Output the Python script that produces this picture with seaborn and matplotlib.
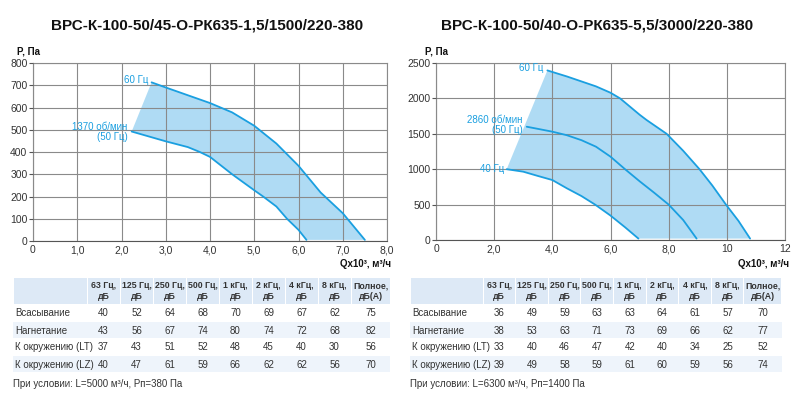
import numpy as np
import pandas as pd
import matplotlib
matplotlib.use("Agg")
import matplotlib.pyplot as plt
from matplotlib.patches import Rectangle
import seaborn as sns

# кривые вентилятора 1 (Q x10^3 м3/ч, P Па)
q1_60 = [2.68, 3.0, 3.5, 4.0, 4.5, 5.0, 5.5, 6.0, 6.5, 7.0, 7.5]
p1_60 = [713, 690, 655, 620, 578, 518, 438, 338, 218, 125, 5]
q1_50 = [2.23, 3.0, 3.5, 3.77, 4.0, 4.5, 5.0, 5.2, 5.5, 5.74, 6.0, 6.18]
p1_50 = [492, 448, 422, 400, 378, 300, 228, 200, 155, 100, 50, 5]

# кривые вентилятора 2
q2_60 = [3.83, 4.5, 5.0, 5.5, 6.0, 6.33, 7.0, 7.24, 7.93, 8.5, 9.06, 9.5, 9.97, 10.4, 10.8]
p2_60 = [2395, 2310, 2240, 2170, 2080, 2000, 1770, 1695, 1500, 1260, 1000, 770, 500, 270, 20]
q2_50 = [3.12, 3.5, 4.0, 4.5, 5.0, 5.5, 6.0, 6.5, 7.0, 7.5, 8.0, 8.5, 8.96]
p2_50 = [1600, 1570, 1530, 1480, 1410, 1318, 1177, 1000, 830, 668, 500, 282, 20]
q2_40 = [2.43, 3.0, 3.5, 4.0, 4.5, 5.0, 5.47, 6.0, 6.5, 6.96]
p2_40 = [1000, 965, 905, 847, 730, 621, 500, 345, 180, 20]

titles = ["ВРС-К-100-50/45-О-РК635-1,5/1500/220-380",
          "ВРС-К-100-50/40-О-РК635-5,5/3000/220-380"]

x1_ticks = [0, 1, 2, 3, 4, 5, 6, 7, 8]
x1_labels = ["0", "1,0", "2,0", "3,0", "4,0", "5,0", "6,0", "7,0", "8,0"]
y1_ticks = [0, 100, 200, 300, 400, 500, 600, 700, 800]
x2_ticks = [0, 2, 4, 6, 8, 10, 12]
x2_labels = ["0", "2,0", "4,0", "6,0", "8,0", "10", "12"]
y2_ticks = [0, 500, 1000, 1500, 2000, 2500]

# таблицы шума
col_heads = ["63 Гц,\nдБ", "125 Гц,\nдБ", "250 Гц,\nдБ", "500 Гц,\nдБ", "1 кГц,\nдБ",
             "2 кГц,\nдБ", "4 кГц,\nдБ", "8 кГц,\nдБ", "Полное,\nдБ(А)"]
row_names = ["Всасывание", "Нагнетание", "К окружению (LT)", "К окружению (LZ)"]
noise1 = [[40, 52, 64, 68, 70, 69, 67, 62, 75],
          [43, 56, 67, 74, 80, 74, 72, 68, 82],
          [37, 43, 51, 52, 48, 45, 40, 30, 56],
          [40, 47, 61, 59, 66, 62, 62, 56, 70]]
noise2 = [[36, 49, 59, 63, 63, 64, 61, 57, 70],
          [38, 53, 63, 71, 73, 69, 66, 62, 77],
          [33, 40, 46, 47, 42, 40, 34, 25, 52],
          [39, 49, 58, 59, 61, 60, 59, 56, 74]]
notes = ["При условии: L=5000 м³/ч, Pп=380 Па",
         "При условии: L=6300 м³/ч, Pп=1400 Па"]

LINE = "#1a9fe0"
FILL = "#8ecdf0"
TXT = "#333333"

sns.set_theme(style="whitegrid")
plt.rcParams["font.family"] = ["Liberation Sans", "DejaVu Sans"]

W, H = 800, 405
fig = plt.figure(figsize=(8, 4.05), dpi=100)


def px_axes(x0, y0, x1, y1):
    return fig.add_axes([x0 / W, 1 - y1 / H, (x1 - x0) / W, (y1 - y0) / H])


def draw_chart(ax, curves, xlim, ylim, xt, xl, yt):
    df = pd.concat([pd.DataFrame({"Q": q, "P": p, "c": i}) for i, (q, p) in enumerate(curves)])
    top_q, top_p = curves[0]
    bot_q, bot_p = curves[-1]
    poly_q = list(bot_q) + list(top_q[::-1])
    poly_p = list(bot_p) + list(top_p[::-1])
    ax.fill(poly_q, poly_p, color=FILL, alpha=0.7, lw=0, zorder=1)
    sns.lineplot(data=df, x="Q", y="P", hue="c", palette=[LINE] * len(curves),
                 sort=False, legend=False, lw=1.3, ax=ax, zorder=4)
    ax.set_xlim(*xlim)
    ax.set_ylim(*ylim)
    ax.set_xticks(xt)
    ax.set_xticklabels(xl)
    ax.set_yticks(yt)
    ax.set_xlabel("")
    ax.set_ylabel("")
    ax.set_axisbelow(False)
    ax.grid(True, color="#8a8a8a", lw=0.8, zorder=2)
    ax.set_facecolor("white")
    for s in ax.spines.values():
        s.set_color("#8a8a8a")
        s.set_linewidth(0.8)
    ax.spines["left"].set_color("#555555")
    ax.spines["bottom"].set_color("#555555")
    ax.tick_params(axis="y", length=3, width=0.8, color="#555555", pad=1,
                   labelsize=7.5, labelcolor=TXT, left=True)
    ax.tick_params(axis="x", length=0, pad=3, labelsize=7.5, labelcolor=TXT)


ax1 = px_axes(33, 63, 387, 241)
draw_chart(ax1, [(q1_60, p1_60), (q1_50, p1_50)], (0, 8), (0, 800),
           x1_ticks, x1_labels, y1_ticks)
ax1.text(q1_60[0] - 0.08, p1_60[0] + 10, "60 Гц", color=LINE, fontsize=7,
         ha="right", va="center")
ax1.text(q1_50[0] - 0.1, p1_50[0], "1370 об/мин\n(50 Гц)", color=LINE, fontsize=7,
         ha="right", va="center", linespacing=1.0, multialignment="right")

ax2 = px_axes(436, 63, 785, 240)
draw_chart(ax2, [(q2_60, p2_60), (q2_50, p2_50), (q2_40, p2_40)], (0, 12), (0, 2500),
           x2_ticks, x2_labels, y2_ticks)
ax2.text(q2_60[0] - 0.15, p2_60[0] + 30, "60 Гц", color=LINE, fontsize=7,
         ha="right", va="center")
ax2.text(q2_50[0] - 0.15, p2_50[0] + 20, "2860 об/мин\n(50 Гц)", color=LINE, fontsize=7,
         ha="right", va="center", linespacing=1.0, multialignment="right")
ax2.text(q2_40[0] - 0.1, p2_40[0], "40 Гц", color=LINE, fontsize=7,
         ha="right", va="center")

# оверлей в пикселях для заголовков и таблиц
ov = fig.add_axes([0, 0, 1, 1], zorder=-1)
ov.set_xlim(0, W)
ov.set_ylim(H, 0)
ov.axis("off")

ov.text(207, 25, titles[0], fontsize=11, fontweight="bold", ha="center", va="center", color="#111111")
ov.text(597, 25, titles[1], fontsize=11, fontweight="bold", ha="center", va="center", color="#111111")
ov.text(17, 52, "P, Па", fontsize=7, fontweight="bold", ha="left", va="center", color="#111111")
ov.text(425, 52, "P, Па", fontsize=7, fontweight="bold", ha="left", va="center", color="#111111")
ov.text(391, 264, "Qx10³, м³/ч", fontsize=7, fontweight="bold", ha="right", va="center", color="#111111")
ov.text(789, 264, "Qx10³, м³/ч", fontsize=7, fontweight="bold", ha="right", va="center", color="#111111")


def draw_table(x0, first_w, col_w, last_w, data, note):
    edges = [x0, x0 + first_w]
    for i in range(8):
        edges.append(edges[-1] + col_w)
    edges.append(edges[-1] + last_w)
    y_h0, y_h1 = 278, 304
    row_h = 17
    # шапка
    for i in range(len(edges) - 1):
        ov.add_patch(Rectangle((edges[i] + 0.5, y_h0), edges[i + 1] - edges[i] - 1,
                               y_h1 - y_h0, color="#dde9f6", lw=0))
    for j, head in enumerate(col_heads):
        cx = (edges[j + 1] + edges[j + 2]) / 2
        ov.text(cx, (y_h0 + y_h1) / 2, head, fontsize=6.3, fontweight="bold",
                ha="center", va="center", color=TXT, linespacing=1.2)
    for r, name in enumerate(row_names):
        ry = y_h1 + 1 + r * row_h
        if r % 2 == 1:
            ov.add_patch(Rectangle((edges[0], ry), edges[-1] - edges[0], row_h - 1,
                                   color="#eef4fb", lw=0))
        cy = ry + row_h / 2
        ov.text(edges[0] + 2, cy, name, fontsize=7, ha="left", va="center", color=TXT)
        for j, v in enumerate(data[r]):
            cx = (edges[j + 1] + edges[j + 2]) / 2
            ov.text(cx, cy, str(v), fontsize=7, ha="center", va="center", color=TXT)
    ov.text(edges[0], 384, note, fontsize=7, ha="left", va="center", color=TXT)


draw_table(13, 74, 33, 39, noise1, notes[0])
draw_table(410, 73, 32.6, 38, noise2, notes[1])

fig.savefig("out.png", dpi=100)
